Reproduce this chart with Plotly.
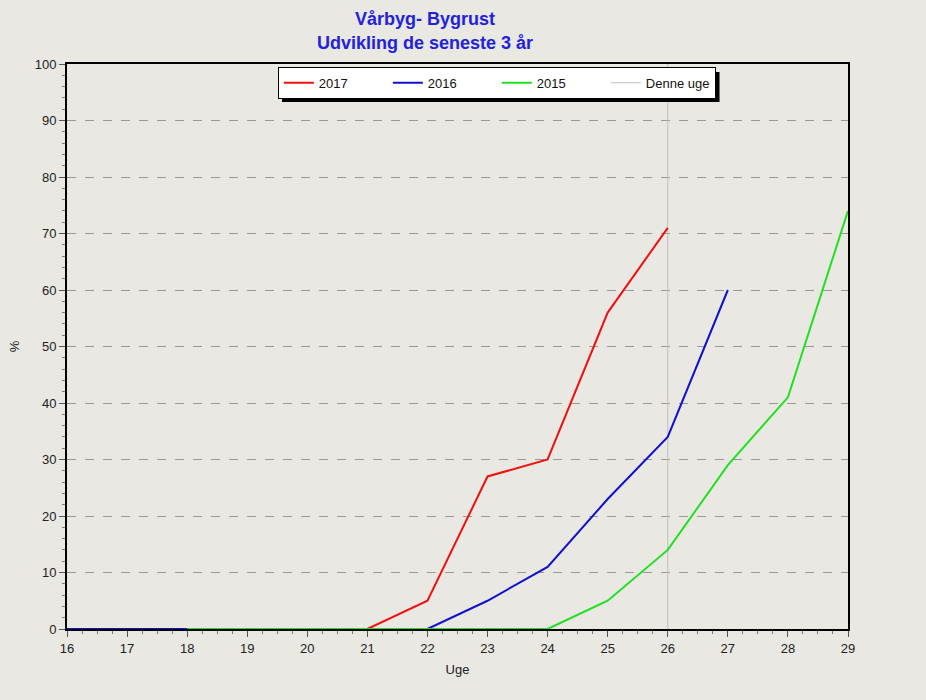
import plotly.graph_objects as go

weeks_2017 = [16, 17, 18, 19, 20, 21, 22, 23, 24, 25, 26]
vals_2017 = [0, 0, 0, 0, 0, 0, 5, 27, 30, 56, 71]
weeks_2016 = [16, 17, 18, 19, 20, 21, 22, 23, 24, 25, 26, 27]
vals_2016 = [0, 0, 0, 0, 0, 0, 0, 5, 11, 23, 34, 60]
weeks_2015 = [18, 19, 20, 21, 22, 23, 24, 25, 26, 27, 28, 29]
vals_2015 = [0, 0, 0, 0, 0, 0, 0, 5, 14, 29, 41, 74]
this_week = 26
x_ticks = list(range(16, 30))
y_ticks = list(range(0, 101, 10))

bg = "#E9E8E2"
fig = go.Figure()
fig.add_trace(go.Scatter(x=[this_week, this_week], y=[0, 100], mode="lines",
                         line=dict(color="#BEBEBE", width=1), name="Denne uge",
                         legendrank=4, cliponaxis=False))
fig.add_trace(go.Scatter(x=weeks_2017, y=vals_2017, mode="lines",
                         line=dict(color="#F01010", width=2), name="2017", legendrank=1, cliponaxis=False))
fig.add_trace(go.Scatter(x=weeks_2016, y=vals_2016, mode="lines",
                         line=dict(color="#1010D0", width=2), name="2016", legendrank=2, cliponaxis=False))
fig.add_trace(go.Scatter(x=weeks_2015, y=vals_2015, mode="lines",
                         line=dict(color="#20E020", width=2), name="2015", legendrank=3, cliponaxis=False))

# legend drop shadow
fig.add_shape(type="rect", xref="paper", yref="paper",
              x0=0.2753, x1=0.8355, y0=0.9327, y1=0.9858,
              fillcolor="black", line=dict(width=0), layer="above")

fig.update_layout(
    width=926, height=700,
    margin=dict(l=67, r=78, t=64, b=71),
    paper_bgcolor=bg, plot_bgcolor=bg,
    font=dict(family="Arial, Liberation Sans", size=13, color="#222222"),
    title=dict(text="<b>Vårbyg- Bygrust<br>Udvikling de seneste 3 år</b>",
               x=0.459, xanchor="center", y=0.964, yanchor="top",
               font=dict(size=18, color="#2222DD", family="Arial, Liberation Sans")),
    showlegend=True,
    legend=dict(orientation="h", x=0.27, xanchor="left", y=0.995, yanchor="top",
                bgcolor="white", bordercolor="black", borderwidth=1,
                itemwidth=30, entrywidth=64, entrywidthmode="pixels",
                font=dict(size=13, color="#111111"), traceorder="normal",
                tracegroupgap=0),
    xaxis=dict(range=[16, 29], tickvals=x_ticks, showgrid=False, zeroline=False,
               showline=True, linecolor="black", linewidth=2, mirror=True,
               ticks="outside", ticklen=6, tickcolor="#555555",
               minor=dict(dtick=0.25, ticks="outside", ticklen=3, tickcolor="#777777"),
               title=dict(text="Uge", font=dict(size=13), standoff=10)),
    yaxis=dict(range=[0, 100], tickvals=y_ticks, showgrid=True, gridcolor="#999999",
               griddash="dash", gridwidth=1, zeroline=False,
               showline=True, linecolor="black", linewidth=2, mirror=True,
               ticks="outside", ticklen=6, tickcolor="#555555",
               minor=dict(dtick=2, ticks="outside", ticklen=3, tickcolor="#777777", showgrid=False),
               title=dict(text="%", font=dict(size=13), standoff=12)),
)
fig.write_html("out.html", config={"displayModeBar": False},
               post_script="document.body.style.margin='0px';document.body.style.background='#E9E8E2';")
